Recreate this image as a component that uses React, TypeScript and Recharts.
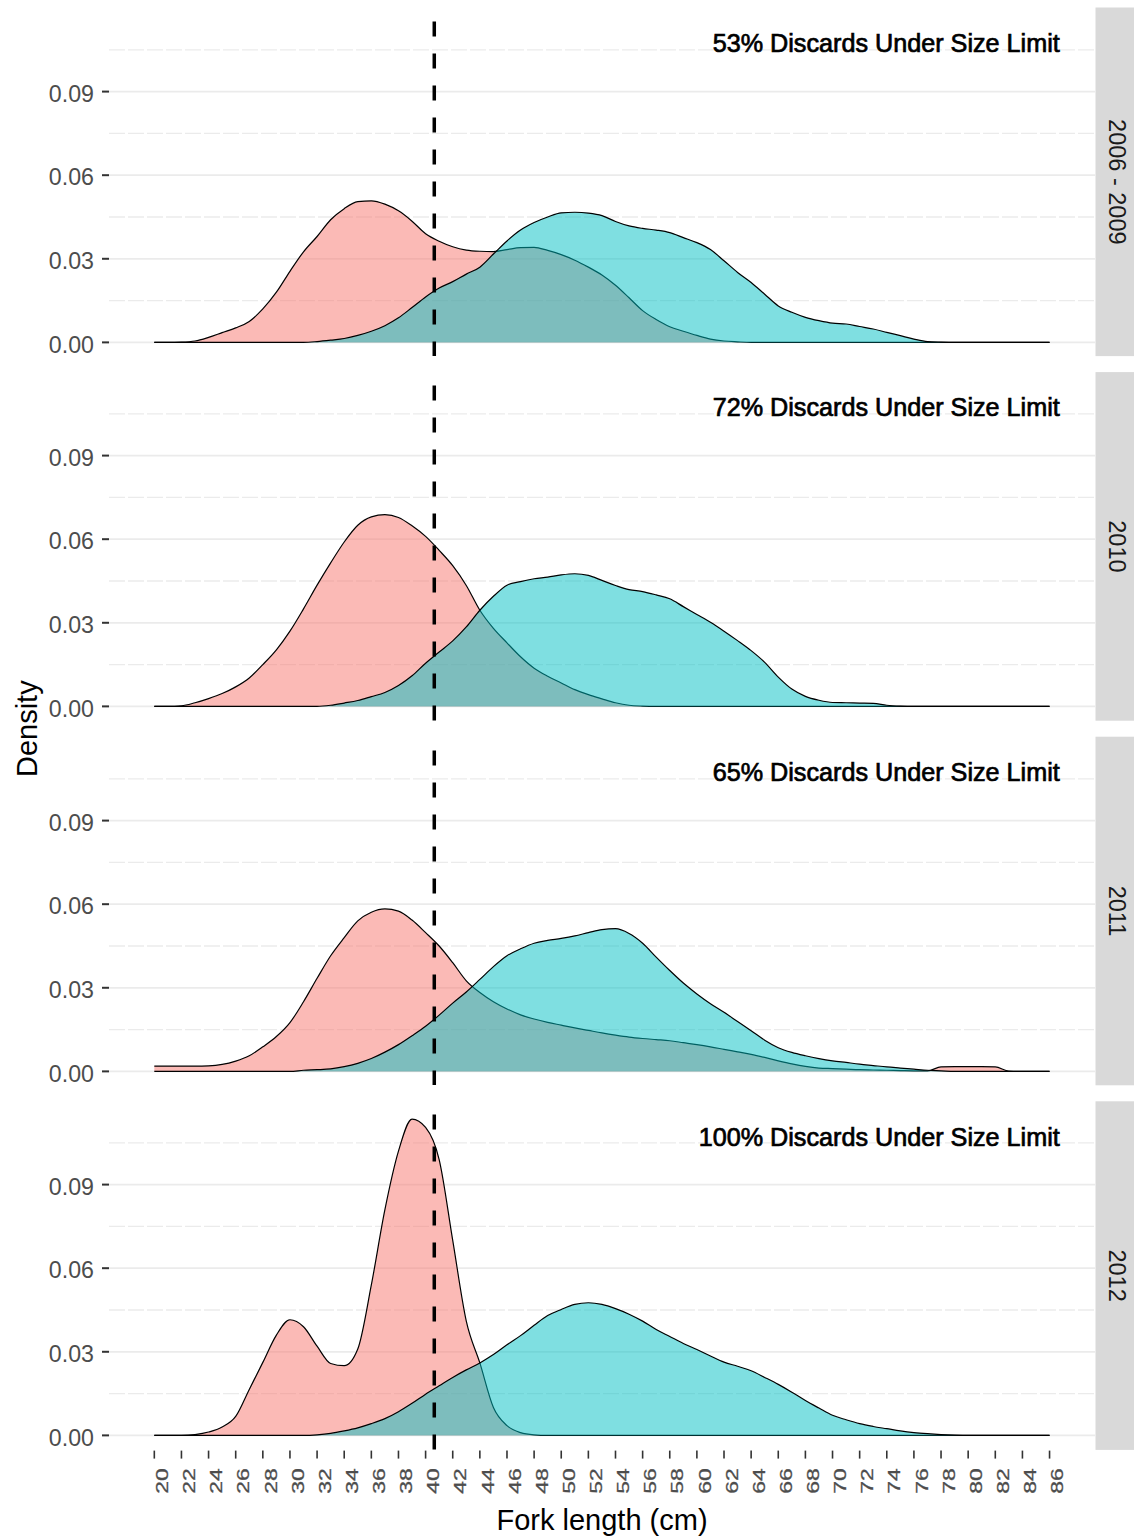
import React from 'react';
import { AreaChart, Area, XAxis, YAxis, CartesianGrid, ReferenceLine } from 'recharts';

// ---------- data ----------
const FORK_LENGTHS = [
  20, 21, 22, 23, 24, 25, 26, 27, 28, 29,
  30, 31, 32, 33, 34, 35, 36, 37, 38, 39,
  40, 41, 42, 43, 44, 45, 46, 47, 48, 49,
  50, 51, 52, 53, 54, 55, 56, 57, 58, 59,
  60, 61, 62, 63, 64, 65, 66, 67, 68, 69,
  70, 71, 72, 73, 74, 75, 76, 77, 78, 79,
  80, 81, 82, 83, 84, 85, 86,
];
const X_TICKS = [20, 22, 24, 26, 28, 30, 32, 34, 36, 38, 40, 42, 44, 46, 48, 50, 52, 54, 56, 58, 60, 62, 64, 66, 68, 70, 72, 74, 76, 78, 80, 82, 84, 86];
const Y_TICKS = [0, 0.03, 0.06, 0.09];
const Y_MINOR = [0.015, 0.045, 0.075, 0.105];
const SIZE_LIMIT_CM = 40.64;
const PERIODS = ['2006 - 2009', '2010', '2011', '2012'];
const NOTES = [
  '53% Discards Under Size Limit',
  '72% Discards Under Size Limit',
  '65% Discards Under Size Limit',
  '100% Discards Under Size Limit',
];

// density, 2006 - 2009
const P1_DISCARDED = [
  0, 0, 0.0001, 0.0005, 0.0018, 0.0035, 0.0052, 0.0075, 0.0120, 0.0180,
  0.0255, 0.0325, 0.0380, 0.0440, 0.0480, 0.0505, 0.0508, 0.0496, 0.0472, 0.0435,
  0.0390, 0.0363, 0.0343, 0.0331, 0.0327, 0.0326, 0.0333, 0.0340, 0.0341, 0.0330,
  0.0315, 0.0295, 0.0270, 0.0242, 0.0205, 0.0160, 0.0114, 0.0082, 0.0056, 0.0040,
  0.0025, 0.0012, 0.0005, 0.0002, 0, 0, 0, 0, 0, 0,
  0, 0, 0, 0, 0, 0, 0, 0, 0, 0,
  0, 0, 0, 0, 0, 0, 0,
];
const P1_KEPT = [
  0, 0, 0, 0, 0, 0, 0, 0, 0, 0,
  0, 0, 0.0003, 0.0008, 0.0014, 0.0025, 0.0040, 0.0060, 0.0088, 0.0125,
  0.0163, 0.0195, 0.0218, 0.0245, 0.0270, 0.0317, 0.0364, 0.0403, 0.0430, 0.0450,
  0.0465, 0.0467, 0.0464, 0.0455, 0.0434, 0.0418, 0.0409, 0.0403, 0.0394, 0.0376,
  0.0358, 0.0333, 0.0293, 0.0251, 0.0215, 0.0173, 0.0131, 0.0108, 0.0090, 0.0078,
  0.0069, 0.0066, 0.0057, 0.0048, 0.0036, 0.0024, 0.0012, 0.0003, 0.0001, 0,
  0, 0, 0, 0, 0, 0, 0,
];
// density, 2010
const P2_DISCARDED = [
  0, 0, 0.0002, 0.0013, 0.0028, 0.0046, 0.0070, 0.0102, 0.0150, 0.0203,
  0.0270, 0.0350, 0.0435, 0.0515, 0.0590, 0.0650, 0.0680, 0.0688, 0.0678, 0.0648,
  0.0610, 0.0560, 0.0505, 0.0434, 0.0345, 0.0280, 0.0228, 0.0178, 0.0137, 0.0108,
  0.0084, 0.0060, 0.0042, 0.0027, 0.0013, 0.0004, 0.0001, 0, 0, 0,
  0, 0, 0, 0, 0, 0, 0, 0, 0, 0,
  0, 0, 0, 0, 0, 0, 0, 0, 0, 0,
  0, 0, 0, 0, 0, 0, 0,
];
const P2_KEPT = [
  0, 0, 0, 0, 0, 0, 0, 0, 0, 0,
  0, 0, 0, 0.0004, 0.0012, 0.0021, 0.0035, 0.0050, 0.0075, 0.0110,
  0.0155, 0.0195, 0.0235, 0.0285, 0.0345, 0.0395, 0.0435, 0.0448, 0.0458, 0.0464,
  0.0472, 0.0476, 0.0470, 0.0452, 0.0434, 0.0419, 0.0412, 0.0400, 0.0386, 0.0358,
  0.0330, 0.0302, 0.0270, 0.0236, 0.0200, 0.0158, 0.0105, 0.0062, 0.0036, 0.0022,
  0.0014, 0.0013, 0.0012, 0.0011, 0.0004, 0.0001, 0, 0, 0, 0,
  0, 0, 0, 0, 0, 0, 0,
];
// density, 2011
const P3_DISCARDED = [
  0.0019, 0.0019, 0.0019, 0.0019, 0.0020, 0.0025, 0.0037, 0.0056, 0.0088, 0.0125,
  0.0175, 0.0250, 0.0334, 0.0415, 0.0480, 0.0540, 0.0571, 0.0583, 0.0575, 0.0543,
  0.0498, 0.0450, 0.0390, 0.0325, 0.0283, 0.0250, 0.0224, 0.0203, 0.0188, 0.0176,
  0.0166, 0.0156, 0.0147, 0.0138, 0.0130, 0.0123, 0.0118, 0.0114, 0.0110, 0.0103,
  0.0096, 0.0088, 0.0079, 0.0070, 0.0061, 0.0050, 0.0038, 0.0027, 0.0018, 0.0012,
  0.0010, 0.0008, 0.0006, 0.0005, 0.0004, 0.0003, 0.0002, 0.0002, 0.0016, 0.0017,
  0.0017, 0.0017, 0.0016, 0.0001, 0, 0, 0,
];
const P3_KEPT = [
  0, 0, 0, 0, 0, 0, 0, 0, 0, 0,
  0, 0.0004, 0.0006, 0.0009, 0.0017, 0.0029, 0.0046, 0.0069, 0.0096, 0.0128,
  0.0162, 0.0202, 0.0245, 0.0285, 0.0330, 0.0376, 0.0415, 0.0440, 0.0460, 0.0470,
  0.0477, 0.0486, 0.0498, 0.0509, 0.0512, 0.0495, 0.0460, 0.0410, 0.0362, 0.0317,
  0.0278, 0.0243, 0.0212, 0.0179, 0.0146, 0.0112, 0.0085, 0.0068, 0.0056, 0.0046,
  0.0038, 0.0032, 0.0026, 0.0021, 0.0016, 0.0012, 0.0008, 0.0004, 0.0002, 0,
  0, 0, 0, 0, 0, 0, 0,
];
// density, 2012
const P4_DISCARDED = [
  0, 0, 0, 0.0003, 0.0012, 0.0030, 0.0068, 0.0165, 0.0262, 0.0360,
  0.0415, 0.0390, 0.0320, 0.0258, 0.0250, 0.0310, 0.0540, 0.0810, 0.1020, 0.1135,
  0.1105, 0.0990, 0.0700, 0.0410, 0.0260, 0.0100, 0.0035, 0.0010, 0.0002, 0,
  0, 0, 0, 0, 0, 0, 0, 0, 0, 0,
  0, 0, 0, 0, 0, 0, 0, 0, 0, 0,
  0, 0, 0, 0, 0, 0, 0, 0, 0, 0,
  0, 0, 0, 0, 0, 0, 0,
];
const P4_KEPT = [
  0, 0, 0, 0, 0, 0, 0, 0, 0, 0,
  0, 0, 0.0002, 0.0007, 0.0016, 0.0027, 0.0042, 0.0060, 0.0085, 0.0115,
  0.0148, 0.0178, 0.0208, 0.0235, 0.0260, 0.0290, 0.0325, 0.0358, 0.0395, 0.0430,
  0.0452, 0.0470, 0.0476, 0.0470, 0.0455, 0.0435, 0.0410, 0.0380, 0.0355, 0.0330,
  0.0308, 0.0285, 0.0263, 0.0248, 0.0232, 0.0208, 0.0183, 0.0155, 0.0125, 0.0098,
  0.0072, 0.0056, 0.0042, 0.0032, 0.0024, 0.0016, 0.0010, 0.0006, 0.0003, 0.0001,
  0, 0, 0, 0, 0, 0, 0,
];

const PANEL_SERIES = [
  [P1_DISCARDED, P1_KEPT],
  [P2_DISCARDED, P2_KEPT],
  [P3_DISCARDED, P3_KEPT],
  [P4_DISCARDED, P4_KEPT],
];

// ---------- layout ----------
const CHART_W = 1134;
const PAGE_H = 1537;
const PLOT_LEFT = 109;
const PLOT_RIGHT = 1095;
const PANEL_TOP0 = 7.5;
const PANEL_H = 348.6;
const PANEL_PITCH = 364.6;
const X_DOMAIN = [16.66, 89.35];
const Y_DOMAIN = [-0.0051, 0.12];
const FONT = '"Liberation Sans", Arial, Helvetica, sans-serif';
const AXIS_TEXT = '#4d4d4d';

const XTick = (props: any) => {
  const { x, y, payload } = props;
  return (
    <g>
      <line x1={x} x2={x} y1={y + 1} y2={y + 9} stroke="#333" strokeWidth={1.6} />
      <text
        transform={`translate(${x + 13.7},${y + 18.5}) rotate(-90) scale(1,0.7)`}
        textAnchor="end"
        fontSize={23}
        fontFamily={FONT}
        fill={AXIS_TEXT}
        stroke={AXIS_TEXT}
        strokeWidth={0.4}
      >
        {payload.value}
      </text>
    </g>
  );
};

const YTick = (props: any) => {
  const { x, y, payload } = props;
  return (
    <g>
      <line x1={x - 7} x2={x} y1={y} y2={y} stroke="#333" strokeWidth={2} />
      <text x={x - 15} y={y + 10.3} textAnchor="end" fontSize={23.2} fontFamily={FONT} fill={AXIS_TEXT}>
        {Number(payload.value).toFixed(2)}
      </text>
    </g>
  );
};

function Panel({ index }: { index: number }) {
  const [disc, kept] = PANEL_SERIES[index];
  const rows = FORK_LENGTHS.map((x, i) => ({ x, discarded: disc[i], kept: kept[i] }));
  const isLast = index === PANEL_SERIES.length - 1;
  const axisH = isLast ? 90 : 0;
  const top = PANEL_TOP0 + index * PANEL_PITCH;
  const h = PANEL_H + axisH;
  return (
    <div style={{ position: 'absolute', left: 0, top, width: CHART_W, height: h }}>
      <AreaChart
        width={CHART_W}
        height={h}
        data={rows}
        margin={{ top: 0, right: CHART_W - PLOT_RIGHT, bottom: 0, left: 0 }}
      >
        <CartesianGrid vertical={false} horizontalValues={Y_MINOR} stroke="#ebebeb" strokeWidth={1.3} strokeDasharray="16 3" />
        <CartesianGrid vertical={false} horizontalValues={Y_TICKS} stroke="#ebebeb" strokeWidth={1.7} />
        <XAxis
          type="number"
          dataKey="x"
          domain={X_DOMAIN}
          ticks={X_TICKS}
          interval={0}
          allowDataOverflow
          hide={!isLast}
          height={axisH}
          axisLine={false}
          tickLine={false}
          tickSize={0}
          tickMargin={0}
          tick={<XTick />}
        />
        <YAxis
          type="number"
          domain={Y_DOMAIN}
          ticks={Y_TICKS}
          interval={0}
          allowDataOverflow
          width={PLOT_LEFT}
          axisLine={false}
          tickLine={false}
          tickSize={0}
          tickMargin={0}
          tick={<YTick />}
        />
        <Area
          dataKey="discarded"
          type="monotone"
          fill="#F8766D"
          fillOpacity={0.5}
          stroke="#000"
          strokeWidth={1.2}
          dot={false}
          activeDot={false}
          isAnimationActive={false}
        />
        <Area
          dataKey="kept"
          type="monotone"
          fill="#00BFC4"
          fillOpacity={0.5}
          stroke="#000"
          strokeWidth={1.2}
          dot={false}
          activeDot={false}
          isAnimationActive={false}
        />
        <ReferenceLine x={SIZE_LIMIT_CM} stroke="#000" strokeWidth={3.5} strokeDasharray="15 17" />
      </AreaChart>
    </div>
  );
}

export default function App() {
  return (
    <div style={{ position: 'absolute', left: 0, top: 0, width: CHART_W, height: PAGE_H, background: '#fff', overflow: 'hidden' }}>
      {PANEL_SERIES.map((_, i) => (
        <Panel key={i} index={i} />
      ))}
      <svg
        width={CHART_W}
        height={PAGE_H}
        style={{ position: 'absolute', left: 0, top: 0, pointerEvents: 'none' }}
      >
        {PERIODS.map((p, i) => {
          const top = PANEL_TOP0 + i * PANEL_PITCH;
          return (
            <g key={p}>
              <rect x={PLOT_RIGHT + 0.5} y={top} width={CHART_W - PLOT_RIGHT} height={PANEL_H} fill="#d9d9d9" />
              <text
                transform={`translate(${1117},${top + PANEL_H / 2}) rotate(90)`}
                textAnchor="middle"
                dominantBaseline="central"
                fontSize={23.5}
                fontFamily={FONT}
                fill="#1a1a1a"
              >
                {p}
              </text>
              <text
                x={1059.8}
                y={top + 44.2}
                textAnchor="end"
                fontSize={25.2}
                fontFamily={FONT}
                fill="#000"
                stroke="#000"
                strokeWidth={0.7}
              >
                {NOTES[i]}
              </text>
            </g>
          );
        })}
        <text
          transform={`translate(27,${PANEL_TOP0 + (3 * PANEL_PITCH + PANEL_H) / 2}) rotate(-90)`}
          textAnchor="middle"
          dominantBaseline="central"
          fontSize={29}
          fontFamily={FONT}
          fill="#000"
        >
          Density
        </text>
        <text
          x={(PLOT_LEFT + PLOT_RIGHT) / 2}
          y={1530}
          textAnchor="middle"
          fontSize={29}
          fontFamily={FONT}
          fill="#000"
        >
          Fork length (cm)
        </text>
      </svg>
    </div>
  );
}
